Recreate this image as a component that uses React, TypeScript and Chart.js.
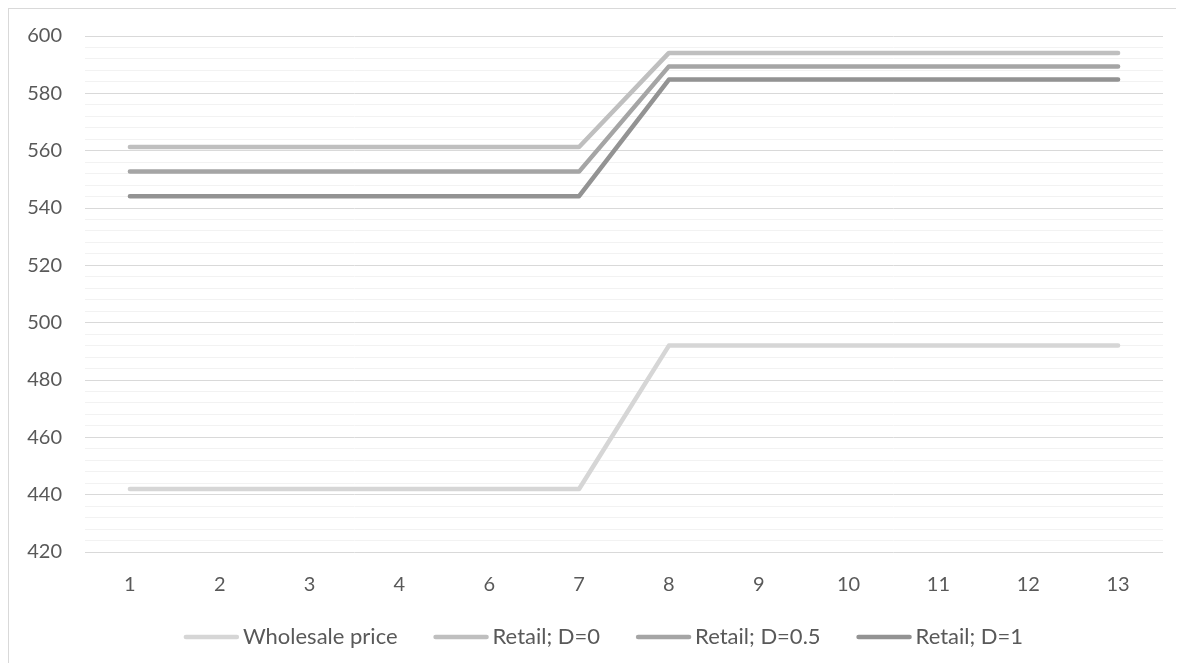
import React, { useEffect, useRef } from "react";
import { Chart, registerables } from "chart.js";

Chart.register(...registerables);

const categories = ["1", "2", "3", "4", "6", "7", "8", "9", "10", "11", "12", "13"];
const wholesale = [442, 442, 442, 442, 442, 442, 492, 492, 492, 492, 492, 492];
const retailD0 = [561.3, 561.3, 561.3, 561.3, 561.3, 561.3, 594.1, 594.1, 594.1, 594.1, 594.1, 594.1];
const retailD05 = [552.7, 552.7, 552.7, 552.7, 552.7, 552.7, 589.4, 589.4, 589.4, 589.4, 589.4, 589.4];
const retailD1 = [544.1, 544.1, 544.1, 544.1, 544.1, 544.1, 584.8, 584.8, 584.8, 584.8, 584.8, 584.8];
const seriesNames = ["Wholesale price", "Retail; D=0", "Retail; D=0.5", "Retail; D=1"];
const seriesColors = ["#d6d6d6", "#bfbfbf", "#a5a5a5", "#939393"];
const yMin = 420;
const yMax = 600;
const yMinorStep = 4;
const yMajorStep = 20;

const FONT = "Lato, 'Open Sans', sans-serif";
const FONT_SIZE = 20;
const LEGEND_FONT_SIZE = 22;
const TEXT_COLOR = "#595959";

const legendPlugin = {
  id: "excelLegend",
  afterDraw(chart: any) {
    const ctx = chart.ctx;
    const items = chart.data.datasets.map((d: any) => ({ label: d.label, color: d.borderColor }));
    ctx.save();
    ctx.font = `${LEGEND_FONT_SIZE}px ${FONT}`;
    const symW = 55;
    const gap = 4;
    const itemGap = 36;
    const widths = items.map((it: any) => ctx.measureText(it.label).width);
    const total = widths.reduce((a: number, b: number) => a + b, 0) + items.length * (symW + gap) + itemGap * (items.length - 1);
    let x = chart.width / 2 - total / 2 + 7;
    const y = 628;
    items.forEach((it: any, i: number) => {
      ctx.strokeStyle = it.color;
      ctx.lineWidth = 4.5;
      ctx.lineCap = "round";
      ctx.beginPath();
      ctx.moveTo(x + 2, y);
      ctx.lineTo(x + symW - 2, y);
      ctx.stroke();
      x += symW + gap;
      ctx.fillStyle = TEXT_COLOR;
      ctx.textBaseline = "middle";
      ctx.textAlign = "left";
      ctx.fillText(it.label, x, y);
      x += widths[i] + itemGap;
    });
    ctx.restore();
  },
};

export default function App() {
  const ref = useRef<HTMLCanvasElement | null>(null);
  useEffect(() => {
    document.body.style.overflow = "hidden";
    const seriesData = [wholesale, retailD0, retailD05, retailD1];
    const chart = new Chart(ref.current as HTMLCanvasElement, {
      type: "line",
      data: {
        labels: categories,
        datasets: seriesData.map((d, i) => ({
          label: seriesNames[i],
          data: d,
          borderColor: seriesColors[i],
          backgroundColor: seriesColors[i],
          borderWidth: 4.5,
          pointRadius: 0,
          borderCapStyle: "round",
          borderJoinStyle: "round",
          tension: 0,
          fill: false,
        })),
      },
      options: {
        animation: false,
        responsive: false,
        maintainAspectRatio: false,
        layout: { padding: { top: 27, right: 21, left: 0, bottom: 51 } },
        plugins: {
          legend: { display: false },
          tooltip: { enabled: false },
        },
        scales: {
          x: {
            offset: true,
            grid: { display: false, drawTicks: false },
            border: { display: false },
            ticks: {
              color: TEXT_COLOR,
              font: { family: FONT, size: FONT_SIZE },
              padding: 21,
              maxRotation: 0,
              autoSkip: false,
            },
            afterFit(scale: any) {
              scale.height = 60;
            },
          },
          y: {
            min: yMin,
            max: yMax,
            border: { display: false },
            grid: {
              drawTicks: false,
              lineWidth: 1,
              color: (c: any) => (c.tick && c.tick.value % yMajorStep === 0 ? "#d9d9d9" : "#f2f2f2"),
            },
            ticks: {
              color: TEXT_COLOR,
              font: { family: FONT, size: FONT_SIZE },
              padding: 23,
              autoSkip: false,
              callback: (v: any) => (Number(v) % yMajorStep === 0 ? String(v) : ""),
            },
            afterBuildTicks(scale: any) {
              const t = [];
              for (let v = yMin; v <= yMax; v += yMinorStep) t.push({ value: v });
              scale.ticks = t;
            },
            afterFit(scale: any) {
              scale.width = 76;
              scale.paddingTop = 0;
              scale.paddingBottom = 0;
            },
          },
        },
      },
      plugins: [legendPlugin],
    } as any);
    return () => chart.destroy();
  }, []);
  return (
    <div
      style={{
        width: 1175,
        height: 654,
        borderLeft: "1px solid #d9d9d9",
        borderTop: "1px solid #d9d9d9",
        background: "#fff",
      }}
    >
      <canvas ref={ref} width={1175} height={654} style={{ display: "block", width: 1175, height: 654 }} />
    </div>
  );
}
